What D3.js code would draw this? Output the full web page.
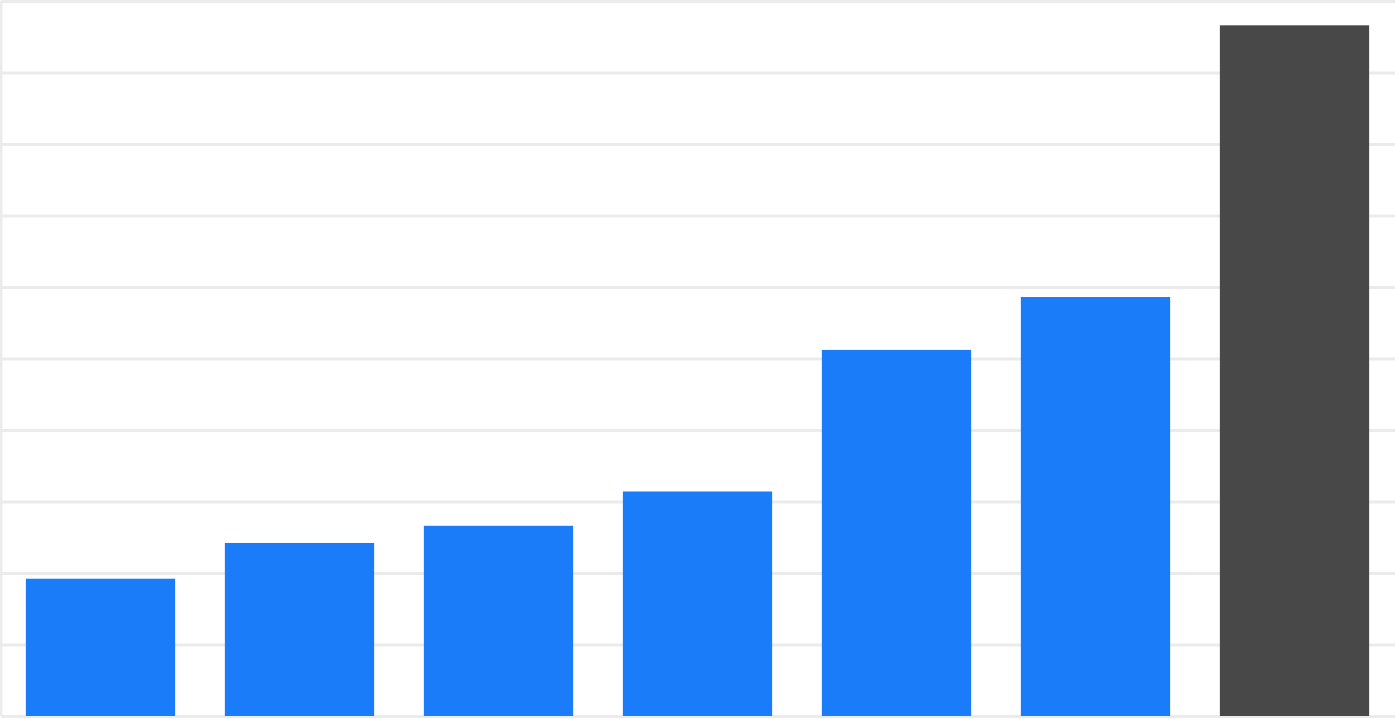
<!DOCTYPE html>
<html lang="en">
<head>
  <meta charset="UTF-8">
  <title>Bars</title>
  <style>
    html, body { margin: 0; padding: 0; background: #fff; overflow: hidden; }
    .grid line { stroke: #ebebeb; stroke-width: 3px; }
    .grid path { display: none; }
  </style>
</head>
<body>
  <script src="https://d3js.org/d3.v7.min.js"></script>
  <div id="chart"></div>
  <script>
    // data
    var categories = ["A", "B", "C", "D", "E", "F", "G"];
    var values = [1.92, 2.42, 2.66, 3.14, 5.12, 5.86, 9.66];
    var barColors = ["#1b7cf9", "#1b7cf9", "#1b7cf9", "#1b7cf9", "#1b7cf9", "#1b7cf9", "#484848"];
    var gridTicks = [0, 1, 2, 3, 4, 5, 6, 7, 8, 9, 10];

    var width = 1395, height = 719;
    var margin = { top: 1, right: 1, bottom: 3, left: 1 };

    var svg = d3.select("#chart").append("svg")
      .attr("width", width)
      .attr("height", height);

    var x = d3.scaleBand()
      .domain(categories)
      .range([margin.left, width - margin.right])
      .paddingInner(0.25)
      .paddingOuter(0.125);

    var y = d3.scaleLinear()
      .domain([0, 10])
      .range([height - margin.bottom, margin.top]);

    // horizontal grid lines
    svg.append("g")
      .attr("class", "grid")
      .attr("transform", "translate(" + margin.left + ",0)")
      .call(d3.axisLeft(y).tickValues(gridTicks).tickSize(-(width - margin.left)).tickFormat(""));

    // left edge line
    svg.append("line")
      .attr("x1", 1.2).attr("x2", 1.2)
      .attr("y1", y(10)).attr("y2", y(0))
      .style("stroke", "#ebebeb")
      .style("stroke-width", 2.5);

    // bars
    svg.selectAll("rect.bar")
      .data(values)
      .enter()
      .append("rect")
      .attr("class", "bar")
      .attr("x", function (d, i) { return x(categories[i]); })
      .attr("y", function (d) { return y(d); })
      .attr("width", x.bandwidth())
      .attr("height", function (d) { return y(0) - y(d); })
      .style("fill", function (d, i) { return barColors[i]; });
  </script>
</body>
</html>
